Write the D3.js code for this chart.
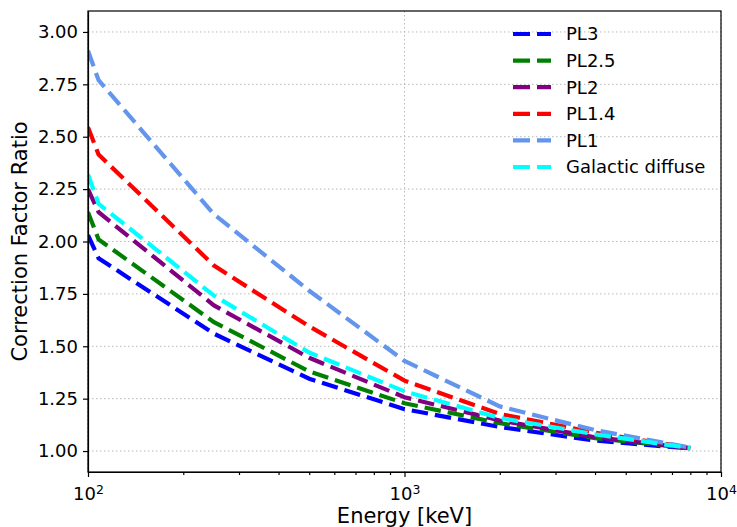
<!DOCTYPE html>
<meta charset="utf-8">
<script src="https://d3js.org/d3.v7.min.js"></script>
<style>
body { margin: 0; background: white; }
text { font-family: "DejaVu Sans", sans-serif; fill: black; }
.grid line { stroke: #b8b8b8; stroke-width: 1; stroke-dasharray: 1.5,2.5; }
.axis path, .axis line { stroke: black; stroke-width: 1.2; }
</style>
<div id="chart"></div>
<script>
// energies (keV) where the curves are sampled
var energy = [100, 108, 250, 500, 1000, 2000, 4000, 8000];
var pl3 = [2.03, 1.92, 1.56, 1.345, 1.20, 1.115, 1.05, 1.012];
var pl25 = [2.14, 2.01, 1.615, 1.38, 1.228, 1.133, 1.062, 1.013];
var pl2 = [2.25, 2.14, 1.695, 1.445, 1.257, 1.146, 1.066, 1.014];
var pl14 = [2.545, 2.415, 1.885, 1.595, 1.336, 1.177, 1.088, 1.015];
var pl1 = [2.91, 2.77, 2.13, 1.765, 1.43, 1.213, 1.10, 1.016];
var galactic = [2.32, 2.18, 1.742, 1.47, 1.285, 1.158, 1.08, 1.014];

var seriesNames = ["PL3", "PL2.5", "PL2", "PL1.4", "PL1", "Galactic diffuse"];
var seriesValues = [pl3, pl25, pl2, pl14, pl1, galactic];
var seriesColors = ["blue", "green", "purple", "red", "cornflowerblue", "cyan"];

var yTicks = [1.00, 1.25, 1.50, 1.75, 2.00, 2.25, 2.50, 2.75, 3.00];
var xMajor = [100, 1000, 10000];
var xMinor = [200, 300, 400, 500, 600, 700, 800, 900, 2000, 3000, 4000, 5000, 6000, 7000, 8000, 9000];

var margin = {top: 11, right: 16, bottom: 55, left: 88},
    width = 737 - margin.left - margin.right,
    height = 527 - margin.top - margin.bottom;

var svg = d3.select("#chart")
  .append("svg")
    .attr("width", 737)
    .attr("height", 527)
  .append("g")
    .attr("transform", "translate(" + margin.left + "," + margin.top + ")");

var x = d3.scaleLog()
  .domain([100, 10000])
  .range([0, width]);
var y = d3.scaleLinear()
  .domain([0.9, 3.1])
  .range([height, 0]);

// grid
svg.append("g")
  .attr("class", "grid")
  .selectAll("line")
  .data(yTicks)
  .enter()
  .append("line")
    .attr("x1", 0)
    .attr("x2", width)
    .attr("y1", function(d) { return y(d); })
    .attr("y2", function(d) { return y(d); });
svg.append("g")
  .attr("class", "grid")
  .selectAll("line")
  .data(xMajor)
  .enter()
  .append("line")
    .attr("x1", function(d) { return x(d); })
    .attr("x2", function(d) { return x(d); })
    .attr("y1", 0)
    .attr("y2", height);

// curves
var line = d3.line()
  .x(function(d) { return x(d[0]); })
  .y(function(d) { return y(d[1]); });

svg.append("defs").append("clipPath").attr("id", "clip")
  .append("rect").attr("width", width).attr("height", height);

seriesValues.forEach(function(vals, i) {
  svg.append("path")
    .datum(energy.map(function(e, j) { return [e, vals[j]]; }))
    .attr("clip-path", "url(#clip)")
    .attr("fill", "none")
    .attr("stroke", seriesColors[i])
    .attr("stroke-width", 4.2)
    .attr("stroke-dasharray", "16.5,7")
    .attr("d", line);
});

// axes
var xAxis = svg.append("g")
  .attr("class", "axis")
  .attr("transform", "translate(0," + height + ")")
  .call(d3.axisBottom(x).tickValues(xMajor).tickSize(5).tickSizeOuter(0).tickPadding(6).tickFormat(""));
xAxis.selectAll(".tick text")
  .attr("font-size", 18)
  .attr("dy", "0.95em")
  .each(function(d) {
    var t = d3.select(this);
    t.append("tspan").text("10");
    t.append("tspan").attr("dy", "-0.45em").attr("font-size", 12.5).text(Math.round(Math.log10(d)));
  });
svg.append("g")
  .attr("class", "axis")
  .attr("transform", "translate(0," + height + ")")
  .call(d3.axisBottom(x).tickValues(xMinor).tickSize(3).tickFormat(""))
  .select(".domain").remove();

var yAxis = svg.append("g")
  .attr("class", "axis")
  .call(d3.axisLeft(y).tickValues(yTicks).tickSize(5).tickSizeOuter(0).tickPadding(5).tickFormat(d3.format(".2f")));
yAxis.selectAll(".tick text").attr("font-size", 18);
d3.selectAll(".axis text").attr("fill", "black").attr("font-family", "DejaVu Sans");

// frame
svg.append("rect")
  .attr("width", width)
  .attr("height", height)
  .attr("fill", "none")
  .attr("stroke", "black")
  .attr("stroke-width", 1.2);

// axis labels
svg.append("text")
  .attr("text-anchor", "middle")
  .attr("x", width / 2)
  .attr("y", height + 51)
  .attr("font-size", 21)
  .text("Energy [keV]");
svg.append("text")
  .attr("text-anchor", "middle")
  .attr("transform", "translate(" + (-61) + "," + (height / 2) + ") rotate(-90)")
  .attr("font-size", 21)
  .text("Correction Factor Ratio");

// legend
var legend = svg.append("g")
  .attr("transform", "translate(425,23)");
seriesNames.forEach(function(name, i) {
  legend.append("line")
    .attr("x1", 0)
    .attr("x2", 38)
    .attr("y1", i * 26.6)
    .attr("y2", i * 26.6)
    .attr("stroke", seriesColors[i])
    .attr("stroke-width", 4.2)
    .attr("stroke-dasharray", "17,7");
  legend.append("text")
    .attr("x", 53)
    .attr("y", i * 26.6)
    .attr("dy", "0.36em")
    .attr("font-size", 18)
    .text(name);
});
</script>
